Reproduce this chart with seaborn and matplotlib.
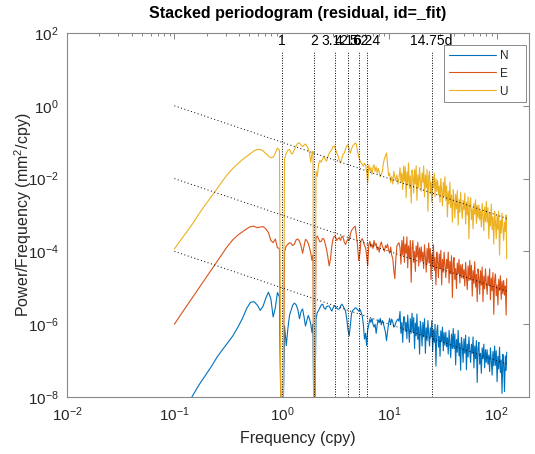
import numpy as np
import pandas as pd
import matplotlib
matplotlib.use("Agg")
import matplotlib.pyplot as plt
from matplotlib.ticker import (FixedLocator, LogLocator, LogFormatterSciNotation,
                               NullLocator, NullFormatter)
import seaborn as sns

# Frequency grid of the periodogram (cycles per year)
freq_cpy = [
    0.10, 0.115, 0.13, 0.15, 0.17, 0.195, 0.22, 0.25, 0.28, 0.31,
    0.35, 0.39, 0.43, 0.47, 0.51, 0.55, 0.59, 0.63, 0.67, 0.71,
    0.75, 0.79, 0.83, 0.87, 0.91, 0.95, 0.98, 1.00, 1.03, 1.06,
    1.10, 1.14, 1.18, 1.22, 1.26, 1.31, 1.36, 1.41, 1.46, 1.51,
    1.56, 1.61, 1.66, 1.71, 1.76, 1.81, 1.86, 1.91, 1.95, 1.98,
    2.00, 2.03, 2.08, 2.14, 2.20, 2.26, 2.33, 2.40, 2.47, 2.54,
    2.61, 2.68, 2.76, 2.84, 2.92, 3.00, 3.08, 3.16, 3.25, 3.34,
    3.43, 3.52, 3.62, 3.72, 3.82, 3.92, 4.02, 4.13, 4.24, 4.35,
    4.46, 4.58, 4.70, 4.82, 4.94, 5.07, 5.20, 5.33, 5.46, 5.60,
    5.74, 5.88, 6.02, 6.16, 6.30, 6.45, 6.60, 6.75, 6.90, 7.06,
    7.22, 7.38, 7.55, 7.72, 7.89, 8.07, 8.25, 8.44, 8.63, 8.82,
    9.02, 9.22, 9.43, 9.64, 9.86, 10.08, 10.31, 10.54, 10.78, 11.02,
    11.27, 11.52, 11.78, 12.04, 12.31, 12.6, 12.85, 13.1, 13.35, 13.6,
    13.85, 14.1, 14.35, 14.6, 14.85, 15.1, 15.4, 15.7, 16.0, 16.3,
    16.6, 16.9, 17.2, 17.5, 17.8, 18.1, 18.45, 18.8, 19.15, 19.5,
    19.85, 20.2, 20.55, 20.9, 21.3, 21.7, 22.1, 22.5, 22.9, 23.3,
    23.7, 24.1, 24.5, 24.9, 25.35, 25.8, 26.25, 26.7, 27.2, 27.7,
    28.2, 28.7, 29.2, 29.7, 30.2, 30.75, 31.3, 31.85, 32.4, 33.0,
    33.6, 34.2, 34.8, 35.4, 36.05, 36.7, 37.35, 38.0, 38.7, 39.4,
    40.1, 40.8, 41.5, 42.25, 43.0, 43.8, 44.6, 45.4, 46.2, 47.0,
    47.85, 48.7, 49.6, 50.5, 51.4, 52.3, 53.25, 54.2, 55.2, 56.2,
    57.2, 58.2, 59.25, 60.3, 61.4, 62.5, 63.6, 64.75, 65.9, 67.1,
    68.3, 69.5, 70.75, 72.0, 73.3, 74.6, 75.9, 77.3, 78.7, 80.1,
    81.5, 83.0, 84.5, 86.0, 87.5, 89.1, 90.7, 92.3, 94.0, 95.7,
    97.4, 99.1, 100.9, 102.7, 104.5, 106.4, 108.3, 110.2, 112.2, 114.2,
    116.2, 118.3, 120.4, 122.5, 124.0,
]

# log10 of the stacked power spectral density (mm^2/cpy), one list per component
log_psd_N = [
    -8.75, -8.48, -8.24, -7.93, -7.66, -7.40, -7.17, -6.90, -6.70, -6.53,
    -6.32, -6.08, -5.84, -5.57, -5.40, -5.38, -5.47, -5.62, -5.50, -5.28,
    -5.12, -5.30, -5.80, -5.55, -5.13, -5.25, -8.50, -10.0, -8.50, -6.05,
    -6.59, -6.10, -5.75, -5.62, -5.48, -5.42, -5.47, -5.60, -5.85, -5.65,
    -5.58, -5.80, -6.05, -5.90, -5.76, -5.85, -6.00, -6.23, -6.00, -8.50,
    -10.0, -8.50, -5.85, -5.68, -5.62, -5.55, -5.47, -5.45, -5.55, -5.59,
    -5.52, -5.50, -5.50, -5.58, -5.64, -5.55, -5.50, -5.52, -5.56, -5.59,
    -5.58, -5.50, -5.45, -5.50, -5.58, -5.64, -5.85, -6.15, -6.32, -6.00,
    -5.70, -5.62, -5.59, -5.55, -5.56, -5.60, -5.64, -5.59, -5.66, -5.77,
    -6.00, -6.41, -6.25, -6.59, -6.15, -6.02, -5.86, -5.95, -5.84, -6.00,
    -6.08, -6.00, -6.25, -6.02, -5.88, -5.96, -5.84, -6.02, -5.90, -5.98,
    -6.10, -6.22, -6.45, -6.20, -5.98, -5.84, -6.00, -5.86, -5.94, -6.08,
    -6.05, -5.95, -5.90, -5.86, -5.92, -5.65, -6.25, -5.95, -6.50, -5.80,
    -5.80, -6.20, -5.95, -6.40, -5.75, -6.10, -6.50, -5.85, -6.25, -5.70,
    -6.22, -5.82, -6.67, -5.97, -6.32, -5.72, -6.42, -6.07, -6.82, -5.92,
    -6.15, -6.60, -5.95, -6.35, -5.85, -6.80, -6.10, -6.45, -5.90, -6.30,
    -6.60, -6.10, -6.35, -5.90, -6.75, -6.15, -6.50, -6.00, -7.15, -6.20,
    -6.03, -6.63, -6.33, -6.88, -6.18, -6.48, -6.08, -6.73, -6.23, -6.58,
    -6.22, -6.62, -6.37, -6.82, -6.17, -6.52, -6.92, -6.27, -6.67, -6.12,
    -6.67, -6.27, -7.12, -6.42, -6.77, -6.17, -6.87, -6.52, -7.27, -6.37,
    -6.60, -7.05, -6.40, -6.80, -6.30, -7.25, -6.55, -6.90, -6.35, -6.75,
    -7.05, -6.55, -6.80, -6.35, -7.20, -6.60, -6.95, -6.45, -7.60, -6.65,
    -6.50, -7.10, -6.80, -7.35, -6.65, -6.95, -6.55, -7.20, -6.70, -7.05,
    -6.70, -7.10, -6.85, -7.30, -6.65, -7.00, -7.40, -6.75, -7.15, -6.60,
    -7.13, -6.73, -7.58, -6.88, -7.23, -6.63, -7.33, -6.98, -7.90, -6.83,
    -7.07, -7.85, -6.87, -7.27, -6.77,
]

log_psd_E = [
    -6.00, -5.73, -5.50, -5.23, -5.00, -4.74, -4.51, -4.27, -4.06, -3.87,
    -3.68, -3.55, -3.46, -3.38, -3.32, -3.31, -3.35, -3.33, -3.32, -3.38,
    -3.48, -3.70, -3.76, -3.66, -3.90, -3.92, -8.50, -10.0, -8.50, -4.00,
    -3.85, -3.80, -3.76, -3.78, -3.84, -3.80, -3.68, -3.66, -3.72, -3.85,
    -4.05, -3.85, -3.67, -3.70, -3.78, -3.90, -4.05, -4.25, -4.10, -8.50,
    -10.0, -8.50, -3.62, -3.58, -3.66, -3.74, -3.72, -3.64, -3.67, -3.80,
    -3.95, -4.15, -4.40, -4.20, -3.85, -3.65, -3.58, -3.60, -3.70, -3.65,
    -3.62, -3.70, -3.58, -3.62, -3.75, -3.81, -3.72, -3.66, -3.70, -3.52,
    -3.42, -3.38, -3.33, -3.31, -3.55, -3.85, -4.25, -4.05, -3.70, -3.65,
    -3.72, -3.84, -3.90, -4.12, -4.40, -3.82, -3.72, -3.88, -3.80, -3.92,
    -3.70, -3.84, -3.78, -3.96, -3.88, -4.02, -3.82, -3.74, -3.86, -3.92,
    -4.00, -3.84, -3.90, -3.80, -3.96, -4.05, -3.88, -4.10, -4.20, -4.50,
    -4.75, -4.20, -3.85, -3.80, -3.76, -3.90, -4.35, -3.70, -4.10, -3.60,
    -4.30, -3.80, -4.05, -3.60, -4.45, -3.85, -4.20, -3.70, -4.85, -3.90,
    -3.70, -4.30, -4.00, -4.55, -3.85, -4.15, -3.75, -4.40, -3.90, -4.25,
    -3.87, -4.27, -4.02, -4.47, -3.82, -4.17, -4.57, -3.92, -4.32, -3.77,
    -4.32, -3.92, -4.77, -4.07, -4.42, -3.82, -4.52, -4.17, -4.92, -4.02,
    -4.27, -4.72, -4.07, -4.47, -3.97, -4.92, -4.22, -4.57, -4.02, -4.42,
    -4.72, -4.22, -4.47, -4.02, -4.87, -4.27, -4.62, -4.12, -5.27, -4.32,
    -4.17, -4.77, -4.47, -5.02, -4.32, -4.62, -4.22, -4.87, -4.37, -4.72,
    -4.35, -4.75, -4.50, -4.95, -4.30, -4.65, -5.05, -4.40, -4.80, -4.25,
    -4.78, -4.38, -5.23, -4.53, -4.88, -4.28, -4.98, -4.63, -5.38, -4.48,
    -4.73, -5.18, -4.53, -4.93, -4.43, -5.38, -4.68, -5.03, -4.48, -4.88,
    -5.18, -4.68, -4.93, -4.48, -5.33, -4.73, -5.08, -4.58, -5.73, -4.78,
    -4.62, -5.22, -4.92, -5.47, -4.77, -5.07, -4.67, -5.32, -4.82, -5.17,
    -4.80, -5.20, -4.95, -5.75, -4.75,
]

log_psd_U = [
    -3.93, -3.68, -3.47, -3.21, -2.96, -2.71, -2.50, -2.27, -2.07, -1.89,
    -1.72, -1.59, -1.48, -1.39, -1.31, -1.24, -1.20, -1.20, -1.24, -1.31,
    -1.38, -1.43, -1.41, -1.30, -1.16, -1.22, -8.50, -10.0, -8.50, -1.45,
    -1.30, -1.22, -1.20, -1.30, -1.32, -1.20, -1.10, -1.03, -1.02, -1.08,
    -1.12, -1.08, -1.05, -1.10, -1.18, -1.30, -1.55, -1.30, -1.25, -8.50,
    -10.0, -8.50, -1.80, -1.94, -1.60, -1.50, -1.55, -1.45, -1.40, -1.48,
    -1.52, -1.40, -1.30, -1.25, -1.20, -1.12, -1.10, -1.20, -1.30, -1.38,
    -1.50, -1.57, -1.45, -1.32, -1.30, -1.18, -1.10, -1.07, -1.20, -1.30,
    -1.18, -1.10, -1.07, -1.02, -1.05, -1.25, -1.40, -1.50, -1.57, -1.60,
    -1.66, -1.58, -1.62, -1.80, -2.12, -1.62, -1.78, -1.70, -1.88, -1.68,
    -1.62, -1.80, -1.68, -1.85, -1.72, -1.82, -1.95, -1.88, -1.80, -1.58,
    -1.45, -1.38, -1.30, -1.62, -1.92, -1.85, -2.10, -1.95, -2.15, -1.80,
    -1.95, -2.05, -1.90, -2.15, -2.00, -1.70, -2.10, -1.85, -2.30, -1.65,
    -2.07, -1.67, -2.52, -1.82, -2.17, -1.57, -2.27, -1.92, -2.67, -1.77,
    -1.95, -2.40, -1.75, -2.15, -1.65, -2.60, -1.90, -2.25, -1.70, -2.10,
    -2.35, -1.85, -2.10, -1.65, -2.50, -1.90, -2.25, -1.75, -2.90, -1.95,
    -1.80, -2.40, -2.10, -2.65, -1.95, -2.25, -1.85, -2.50, -2.00, -2.35,
    -2.05, -2.45, -2.20, -2.65, -2.00, -2.35, -2.75, -2.10, -2.50, -1.95,
    -2.60, -2.20, -3.05, -2.35, -2.70, -2.10, -2.80, -2.45, -3.20, -2.30,
    -2.63, -3.08, -2.43, -2.83, -2.33, -3.28, -2.58, -2.93, -2.38, -2.78,
    -3.10, -2.60, -2.85, -2.40, -3.25, -2.65, -3.00, -2.50, -3.65, -2.70,
    -2.53, -3.13, -2.83, -3.38, -2.68, -2.98, -2.58, -3.23, -2.73, -3.08,
    -2.73, -3.13, -2.88, -3.33, -2.68, -3.03, -3.43, -2.78, -3.18, -2.63,
    -3.20, -2.80, -3.65, -2.95, -3.30, -2.70, -3.40, -3.05, -3.80, -2.90,
    -3.20, -3.65, -3.00, -3.40, -2.90, -4.10, -3.15, -3.50, -2.95, -3.35,
    -3.70, -3.20, -3.45, -3.00, -4.20,
]

components = ["N", "E", "U"]
component_colors = ["#0072BD", "#D95319", "#EDB120"]

# Power-law (1/f) guide lines: frequency span and level at the first frequency
ref_freq = [0.1, 124.0]
ref_level_at_start = [1.0, 1e-2, 1e-4]

# Marked frequencies (annual, semi-annual, draconitic harmonics, 14.75-day tide)
mark_freq = [1.0, 2.0, 3.12, 4.16, 5.20, 6.24, 24.76]
mark_text = ["1", "2", "3.12", "4.16", "5.2", "6.24", "14.75d"]

sns.set_theme(style="white")
plt.rcParams["font.family"] = ["Liberation Sans", "DejaVu Sans"]
plt.rcParams["mathtext.fontset"] = "custom"
plt.rcParams["mathtext.rm"] = "Liberation Sans"
plt.rcParams["mathtext.it"] = "Liberation Sans:italic"
plt.rcParams["mathtext.bf"] = "Liberation Sans:bold"
plt.rcParams["axes.unicode_minus"] = True

frames = []
for name, vals in zip(components, [log_psd_N, log_psd_E, log_psd_U]):
    frames.append(pd.DataFrame({
        "freq": freq_cpy,
        "power": np.power(10.0, np.asarray(vals, dtype=float)),
        "component": name,
    }))
df = pd.concat(frames, ignore_index=True)

fig = plt.figure(figsize=(5.35, 4.54), dpi=100)
ax = fig.add_axes([67 / 535, 57 / 454, 462 / 535, 364 / 454])
ax.set_xscale("log")
ax.set_yscale("log")

sns.lineplot(data=df, x="freq", y="power", hue="component",
             hue_order=components, palette=component_colors,
             estimator=None, sort=False, linewidth=0.8, ax=ax)

# 1/f guide lines
for lvl in ref_level_at_start:
    ref_power = [lvl * ref_freq[0] / f for f in ref_freq]
    ax.plot(ref_freq, ref_power, color="black", lw=0.7,
            ls=(0, (1, 2.6)), zorder=3)

# vertical markers with labels
ax.vlines(mark_freq, 1e-8, 30, colors="black", lw=0.7,
          linestyles=(0, (1, 1.6)), zorder=3)
for f, t in zip(mark_freq, mark_text):
    ax.text(f, 10 ** 1.79, t, ha="center", va="center", fontsize=10,
            color="black", zorder=4)

ax.set_xlim(0.01, 200)
ax.set_ylim(1e-8, 1e2)
ax.yaxis.set_major_locator(FixedLocator([1e-8, 1e-6, 1e-4, 1e-2, 1e0, 1e2]))
ax.yaxis.set_major_formatter(LogFormatterSciNotation())
ax.yaxis.set_minor_locator(NullLocator())
ax.xaxis.set_major_locator(LogLocator(base=10, numticks=12))
ax.xaxis.set_minor_locator(LogLocator(base=10, subs=np.arange(2, 10), numticks=12))
ax.xaxis.set_minor_formatter(NullFormatter())
ax.tick_params(which="both", direction="in", top=True, right=True,
               color="#555555", labelcolor="#262626", labelsize=11, width=0.5)
ax.tick_params(which="major", length=4, pad=6)
ax.tick_params(which="minor", length=2)
for s in ax.spines.values():
    s.set_color("#8a8a8a")
    s.set_linewidth(0.8)

ax.set_xlabel("Frequency (cpy)", fontsize=11.5, color="#262626", labelpad=5)
ax.set_ylabel("Power/Frequency (mm$^2$/cpy)", fontsize=11.5, color="#262626")
ax.yaxis.set_label_coords(-0.072, 0.5)
ax.set_title("Stacked periodogram (residual, id=_fit)", fontsize=11.5,
             fontweight="bold", color="black", pad=11)

sns.move_legend(ax, "upper right", bbox_to_anchor=(526 / 535, 1 - 45 / 454),
                bbox_transform=fig.transFigure, title=None, frameon=True,
                fancybox=False, framealpha=1, edgecolor="#777777",
                fontsize=8.5, handlelength=4.0, handletextpad=0.3,
                borderpad=0.4, labelspacing=0.5, borderaxespad=0)
leg = ax.get_legend()
leg.get_frame().set_linewidth(0.6)
# MATLAB-like extra room to the right of the entry names
for txt in leg.get_texts():
    txt.set_text(txt.get_text() + "    ")

fig.savefig("out.png", dpi=100)
